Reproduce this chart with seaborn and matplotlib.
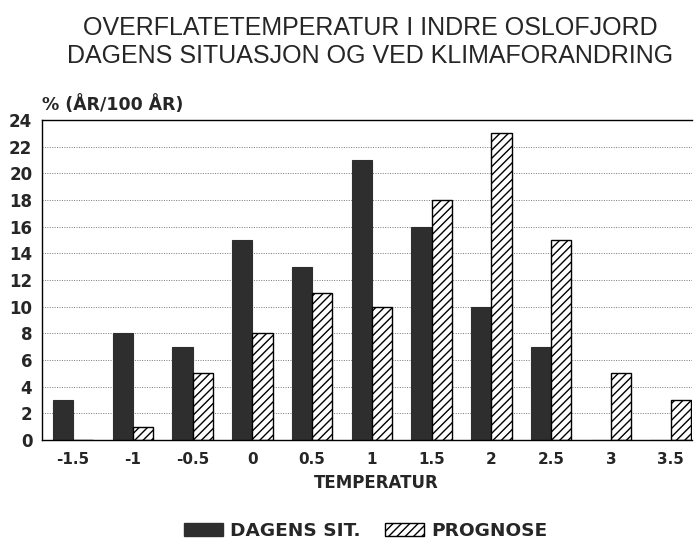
import matplotlib
matplotlib.use('Agg')
import matplotlib.pyplot as plt
import seaborn as sns
import pandas as pd
from matplotlib.patches import Patch

categories = ['-1.5', '-1', '-0.5', '0', '0.5', '1', '1.5', '2', '2.5', '3', '3.5']
dagens = [3, 8, 7, 15, 13, 21, 16, 10, 7, 0, 0]
prognose = [0, 1, 5, 8, 11, 10, 18, 23, 15, 5, 3]
series_names = ['DAGENS SIT.', 'PROGNOSE']
yticks = list(range(0, 25, 2))

sns.set_theme(style='white')
plt.rcParams['font.family'] = ['Liberation Sans', 'DejaVu Sans']
plt.rcParams['hatch.linewidth'] = 1.0

df = pd.DataFrame({
    'temp': categories * 2,
    'val': dagens + prognose,
    'serie': [series_names[0]] * len(categories) + [series_names[1]] * len(categories),
})

dark = '#2e2e2e'
bold_font = ['DejaVu Sans']
fig = plt.figure(figsize=(6.94, 5.41), dpi=100)
ax = fig.add_axes([0.0605, 0.187, 0.936, 0.591])
sns.barplot(data=df, x='temp', y='val', hue='serie', order=categories,
            hue_order=series_names, palette=[dark, 'white'], width=0.68,
            saturation=1, ax=ax, legend=False)
for p in ax.containers[0]:
    p.set_edgecolor(dark)
    p.set_linewidth(0.8)
for p in ax.containers[1]:
    p.set_facecolor('white')
    p.set_edgecolor('black')
    p.set_hatch('////')
    p.set_linewidth(1.0)

ax.set_xlim(-0.52, 10.35)
ax.set_ylim(0, 24)
ax.set_yticks(yticks)
ax.set_xlabel('')
ax.set_ylabel('')
ax.yaxis.grid(True, linestyle=(0, (1, 1.5)), color='#777777', linewidth=0.7)
ax.set_axisbelow(True)
for s in ['left', 'bottom', 'top']:
    ax.spines[s].set_visible(True)
    ax.spines[s].set_color('black')
    ax.spines[s].set_linewidth(1.0)
ax.spines['right'].set_visible(False)
ax.tick_params(axis='x', length=0, pad=9)
ax.tick_params(axis='y', length=0, pad=7)
for lab in ax.get_xticklabels():
    lab.set_fontfamily(bold_font)
    lab.set_fontweight('bold')
    lab.set_fontsize(11)
for lab in ax.get_yticklabels():
    lab.set_fontfamily(bold_font)
    lab.set_fontweight('bold')
    lab.set_fontsize(12)

fig.text(0.533, 1 - 35 / 541, 'OVERFLATETEMPERATUR I INDRE OSLOFJORD',
         ha='center', va='baseline', fontsize=18)
fig.text(0.533, 1 - 63 / 541, 'DAGENS SITUASJON OG VED KLIMAFORANDRING',
         ha='center', va='baseline', fontsize=18)
fig.text(0.0605, 1 - 110 / 541, '% (ÅR/100 ÅR)', ha='left', va='baseline',
         fontsize=12.5, fontweight='bold', family=bold_font)
fig.text(0.542, 1 - 488 / 541, 'TEMPERATUR', ha='center', va='baseline',
         fontsize=12, fontweight='bold', family=bold_font)

handles = [Patch(facecolor=dark, edgecolor=dark, label=series_names[0]),
           Patch(facecolor='white', edgecolor='black', hatch='////', label=series_names[1])]
fig.legend(handles=handles, loc='center', bbox_to_anchor=(0.527, 0.0185), ncol=2,
           frameon=False, handlelength=2.1, handleheight=0.75, handletextpad=0.4,
           columnspacing=1.3, borderpad=0.2,
           prop={'size': 13.3, 'weight': 'bold', 'family': bold_font})

fig.savefig('out.png', dpi=100)
